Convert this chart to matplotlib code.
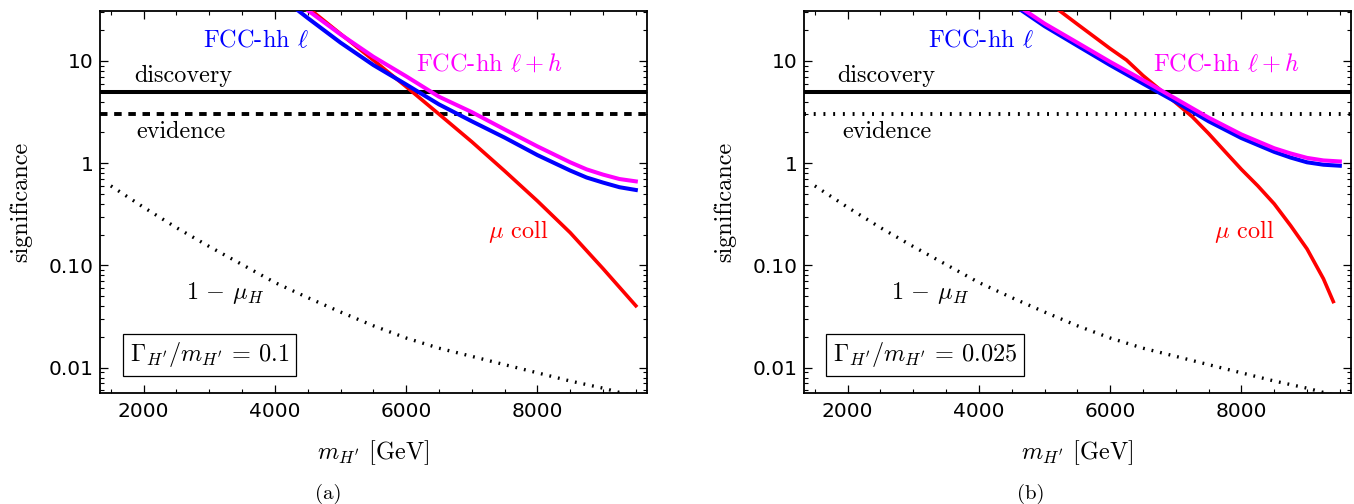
import matplotlib
matplotlib.use("Agg")
import matplotlib.pyplot as plt
from matplotlib.ticker import FixedLocator, FixedFormatter, NullFormatter

plt.rcParams['mathtext.fontset'] = 'cm'
plt.rcParams['lines.scale_dashes'] = False

# ---------------- data ----------------
m_fcc = [4000, 4500, 5000, 5500, 6000, 6500, 7000, 7500, 8000, 8500, 8750, 9000, 9250, 9500]
a_fcc_l = [46.8, 26.3, 15.1, 9.12, 5.89, 3.76, 2.57, 1.78, 1.20, 0.847, 0.724, 0.646, 0.582, 0.547]
a_fcc_lh = [52.5, 31.3, 18.2, 11.0, 7.08, 4.47, 3.16, 2.14, 1.46, 1.02, 0.87, 0.773, 0.70, 0.664]
m_mu_a = [4000, 4500, 5000, 5500, 6000, 6500, 7000, 7500, 8000, 8500, 9000, 9500]
a_mucoll = [60.0, 33.3, 18.4, 10.2, 5.6, 3.02, 1.62, 0.84, 0.427, 0.209, 0.093, 0.0403]

m_fcc_b = [4000, 4500, 5000, 5500, 6000, 6500, 7000, 7500, 8000, 8500, 8750, 9000, 9250, 9500]
b_fcc_l = [60.0, 36.3, 21.9, 14.1, 9.1, 6.0, 3.98, 2.57, 1.76, 1.29, 1.135, 1.02, 0.966, 0.944]
b_fcc_lh = [62.0, 38.0, 23.2, 15.1, 9.8, 6.5, 4.27, 2.79, 1.91, 1.40, 1.245, 1.127, 1.064, 1.04]
m_mu_b = [4500, 5000, 5500, 6000, 6250, 6500, 7000, 7250, 7500, 7750, 8000, 8250, 8500, 8750,
          9000, 9250, 9400]
b_mucoll = [70.0, 40.0, 22.9, 13.2, 10.2, 7.2, 3.9, 2.85, 1.95, 1.3, 0.87, 0.6, 0.4, 0.245,
            0.145, 0.074, 0.0443]

m_muH = [1500, 2000, 2500, 3000, 3500, 4000, 4500, 5000, 5500, 6000, 6500, 7000, 7500, 8000, 8500, 9000, 9500]
one_minus_muH = [0.60, 0.37, 0.234, 0.153, 0.102, 0.068, 0.0484, 0.035, 0.0257, 0.0195, 0.0155,
                 0.0129, 0.0107, 0.0089, 0.0074, 0.0063, 0.0052]

discovery_level = 5
evidence_level = 3

xticks = [2000, 4000, 6000, 8000]
xtick_labels = ["2000", "4000", "6000", "8000"]
xminor = [1500, 2500, 3000, 3500, 4500, 5000, 5500, 6500, 7000, 7500, 8500, 9000, 9500]
yticks = [0.01, 0.1, 1, 10]
ytick_labels = ["0.01", "0.10", "1", "10"]
yminor = [k * 10.0 ** e for e in (-3, -2, -1, 0, 1) for k in range(2, 10)]

width_labels = [r"$\Gamma_{H'}/m_{H'}\,=\,0.1$", r"$\Gamma_{H'}/m_{H'}\,=\,0.025$"]
captions = ["(a)", "(b)"]

BLUE = "#0000ff"
MAGENTA = "#ff00ff"
RED = "#ff0000"
SERIF = "cmr10"
FS = 17.5

W, H = 1354, 504
fig = plt.figure(figsize=(W / 100, H / 100), dpi=100)


def px_axes(left, top, right, bottom):
    return [left / W, 1 - bottom / H, (right - left) / W, (bottom - top) / H]


panels = [
    dict(rect=px_axes(100, 11, 647, 393), fcc_m=m_fcc, fl=a_fcc_l, flh=a_fcc_lh,
         mu_m=m_mu_a, mu=a_mucoll, ev_style=(0, (5.4, 4.8)),
         lab_l=3710, lab_lh=7275, lab_mu=7710, lab_disc=2611, lab_ev=2575,
         lab_muH=3237, lab_box=3003, box=width_labels[0], cap=captions[0], cap_x=328,
         ylab_x=21),
    dict(rect=px_axes(804, 11, 1351, 393), fcc_m=m_fcc_b, fl=b_fcc_l, flh=b_fcc_lh,
         mu_m=m_mu_b, mu=b_mucoll, ev_style=(0, (1.4, 5.6)),
         lab_l=4024, lab_lh=7771, lab_mu=8047, lab_disc=2595, lab_ev=2600,
         lab_muH=3252, lab_box=3177, box=width_labels[1], cap=captions[1], cap_x=1031,
         ylab_x=725),
]

for p in panels:
    ax = fig.add_axes(p["rect"])
    ax.set_yscale("log")
    ax.set_xlim(1335, 9670)
    ax.set_ylim(0.00565, 30.8)

    ax.axhline(discovery_level, color="k", lw=2.9, zorder=3)
    ax.axhline(evidence_level, color="k", lw=2.8, linestyle=p["ev_style"],
               dash_capstyle="butt", zorder=3)
    ax.plot(m_muH, one_minus_muH, color="k", lw=2.4, linestyle=(0, (1.3, 5.0)),
            dash_capstyle="butt", zorder=3)
    ax.plot(p["mu_m"], p["mu"], color=RED, lw=2.6, zorder=4)
    ax.plot(p["fcc_m"], p["fl"], color=BLUE, lw=2.9, zorder=5)
    ax.plot(p["fcc_m"], p["flh"], color=MAGENTA, lw=2.9, zorder=6)

    ax.text(p["lab_l"], 13.8, r"FCC-hh $\ell$", color=BLUE, fontsize=FS,
            family=SERIF, ha="center", va="baseline")
    ax.text(p["lab_lh"], 8.06, r"FCC-hh $\ell+h$", color=MAGENTA, fontsize=FS,
            family=SERIF, ha="center", va="baseline")
    ax.text(p["lab_mu"], 0.1846, r"$\mu$ coll", color=RED, fontsize=FS,
            family=SERIF, ha="center", va="baseline")
    ax.text(p["lab_disc"], 6.29, "discovery", color="k", fontsize=FS,
            family=SERIF, ha="center", va="baseline")
    ax.text(p["lab_ev"], 1.757, "evidence", color="k", fontsize=FS,
            family=SERIF, ha="center", va="baseline")
    ax.text(p["lab_muH"], 0.0467, r"$1\,-\,\mu_H$", color="k", fontsize=FS,
            family=SERIF, ha="center", va="baseline")
    ax.text(p["lab_box"], 0.0133, p["box"], color="k", fontsize=FS,
            family=SERIF, ha="center", va="center",
            bbox=dict(boxstyle="square,pad=0.28", fc="white", ec="black", lw=0.9))

    ax.xaxis.set_major_locator(FixedLocator(xticks))
    ax.xaxis.set_major_formatter(FixedFormatter(xtick_labels))
    ax.xaxis.set_minor_locator(FixedLocator(xminor))
    ax.xaxis.set_minor_formatter(NullFormatter())
    ax.yaxis.set_major_locator(FixedLocator(yticks))
    ax.yaxis.set_major_formatter(FixedFormatter(ytick_labels))
    ax.yaxis.set_minor_locator(FixedLocator(yminor))
    ax.yaxis.set_minor_formatter(NullFormatter())
    ax.tick_params(which="both", direction="in", top=True, right=True,
                   labelsize=14.5, colors="k")
    ax.tick_params(which="major", length=5.5, width=0.9)
    ax.tick_params(which="minor", length=3.0, width=0.8)
    ax.tick_params(axis="x", which="major", pad=6.5)
    ax.tick_params(axis="y", which="major", pad=4.5)
    for lab in ax.get_xticklabels() + ax.get_yticklabels():
        lab.set_family("DejaVu Sans")
    for s in ax.spines.values():
        s.set_linewidth(1.3)

    l, b, w, h = p["rect"]
    fig.text(l + w / 2, 1 - 453 / H, r"$m_{H'}$ [GeV]", fontsize=FS, family=SERIF,
             ha="center", va="center")
    fig.text(p["ylab_x"] / W, 1 - 202 / H, "significance", fontsize=FS, family=SERIF,
             rotation=90, ha="center", va="center")
    fig.text(p["cap_x"] / W, 1 - 494 / H, p["cap"], fontsize=15, family=SERIF,
             ha="center", va="center")

fig.savefig("out.png", dpi=100)
